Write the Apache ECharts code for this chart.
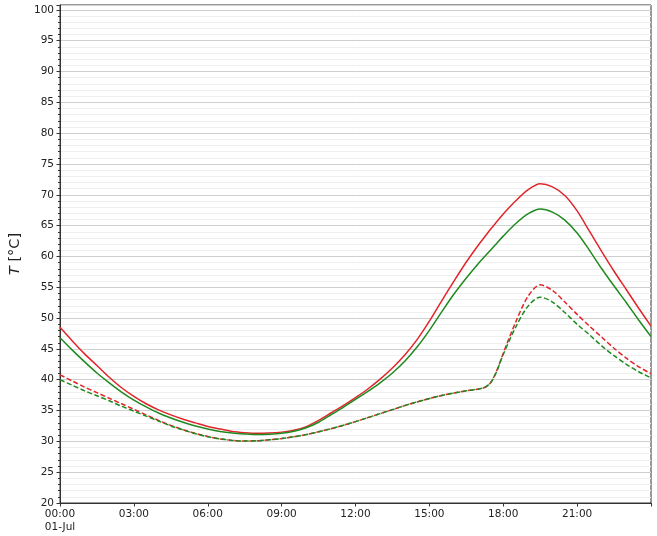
<!DOCTYPE html>
<html>
<head>
<meta charset="utf-8">
<script src="https://cdn.jsdelivr.net/npm/echarts@6/dist/echarts.min.js"></script>
<style>
  html, body { margin: 0; padding: 0; background: #fff; }
  #chart { width: 657px; height: 536px; }
</style>
</head>
<body>
<div id="chart"></div>
<script>
// Sample times over the day (HH:MM)
const times = [
  '00:00','00:30','01:00','01:30','02:00','02:30','03:00','03:30','04:00','04:30',
  '05:00','05:30','06:00','06:30','07:00','07:30','08:00','08:30','09:00','09:30',
  '10:00','10:30','11:00','11:30','12:00','12:30','13:00','13:30','14:00','14:30',
  '15:00','15:30','16:00','16:30','17:00','17:15','17:30','17:45','18:00','18:30',
  '19:00','19:30','20:00','20:30','21:00','21:30','22:00','22:30','23:00','23:30','24:00'
];

// Temperatures in °C
const redSolid = [
  48.5, 46.3, 44.2, 42.3, 40.4, 38.7, 37.3, 36.1, 35.1, 34.3,
  33.6, 33.0, 32.4, 32.0, 31.6, 31.4, 31.3, 31.35, 31.5, 31.8,
  32.4, 33.4, 34.6, 35.8, 37.1, 38.5, 40.1, 41.9, 44.0, 46.5,
  49.5, 52.8, 56.0, 59.1, 61.9, 63.2, 64.5, 65.7, 66.9, 69.0,
  70.8, 71.8, 71.3, 69.9, 67.4, 64.1, 60.8, 57.6, 54.6, 51.6, 48.7
];
const greenSolid = [
  46.8, 44.8, 42.9, 41.1, 39.5, 38.0, 36.7, 35.6, 34.6, 33.8,
  33.1, 32.5, 32.0, 31.6, 31.35, 31.2, 31.1, 31.15, 31.3, 31.65,
  32.2, 33.1, 34.3, 35.5, 36.8, 38.1, 39.5, 41.1, 43.0, 45.3,
  48.0, 51.0, 53.9, 56.5, 58.9, 60.0, 61.1, 62.2, 63.3, 65.3,
  66.9, 67.7, 67.2, 65.9, 63.8, 61.0, 58.0, 55.2, 52.5, 49.7, 47.0
];
const redDashed = [
  40.8, 39.8, 38.8, 37.9, 37.0, 36.1, 35.2, 34.3, 33.4, 32.6,
  31.9, 31.3, 30.8, 30.4, 30.15, 30.05, 30.1, 30.25, 30.45, 30.75,
  31.1, 31.55, 32.05, 32.6, 33.2, 33.85, 34.5, 35.15, 35.8, 36.4,
  36.95, 37.45, 37.85, 38.2, 38.5, 38.75, 39.6, 41.6, 44.3, 49.3,
  53.5, 55.4, 54.5, 52.6, 50.6, 48.7, 46.9, 45.1, 43.5, 42.1, 41.0
];
const greenDashed = [
  40.0, 39.1, 38.2, 37.4, 36.6, 35.7, 34.9, 34.1, 33.3, 32.5,
  31.85, 31.25, 30.75, 30.4, 30.15, 30.05, 30.1, 30.25, 30.45, 30.75,
  31.1, 31.55, 32.05, 32.6, 33.2, 33.85, 34.5, 35.15, 35.8, 36.4,
  36.95, 37.45, 37.85, 38.2, 38.5, 38.75, 39.6, 41.5, 44.1, 48.5,
  51.9, 53.4, 52.6, 50.9, 49.0, 47.3, 45.5, 43.9, 42.5, 41.3, 40.3
];

// Tick labels on the time axis, one every three hours
const xTickLabels = ['00:00\n01-Jul', '03:00', '06:00', '09:00', '12:00', '15:00', '18:00', '21:00', ''];

const toHours = s => { const [h, m] = s.split(':').map(Number); return h + m / 60; };
const pairs = vals => times.map((t, i) => [toHours(t), vals[i]]);

const RED = '#e0262b';
const GREEN = '#1f8a1f';

function line(name, vals, color, dashed) {
  return {
    name, type: 'line', data: pairs(vals), showSymbol: false,
    smooth: 0.3,
    lineStyle: { color, width: 1.5, type: dashed ? [5, 2.5] : 'solid' },
    itemStyle: { color }
  };
}

const chart = echarts.init(document.getElementById('chart'), null, { renderer: 'canvas' });
chart.setOption({
  animation: false,
  backgroundColor: '#fff',
  grid: {
    left: 60, right: 6, top: 5, bottom: 33,
    show: true, borderColor: '#333', borderWidth: 1, backgroundColor: 'transparent'
  },
  xAxis: {
    type: 'value', min: 0, max: 24, interval: 3,
    axisLine: { show: true, lineStyle: { color: '#333', width: 1 } },
    axisTick: { show: true, length: 3.5, lineStyle: { color: '#333' } },
    splitLine: { show: false },
    axisLabel: {
      color: '#222', fontFamily: 'DejaVu Sans', fontSize: 10.5, margin: 5, lineHeight: 13,
      formatter: v => xTickLabels[Math.round(v / 3)] || ''
    }
  },
  yAxis: {
    type: 'value', min: 20, max: 100.8, interval: 5,
    name: '{i|T} [°C]', nameLocation: 'middle', nameRotate: 90, nameGap: 29,
    nameTextStyle: {
      color: '#222', fontFamily: 'DejaVu Sans', fontSize: 14.5,
      rich: { i: { fontStyle: 'italic', fontFamily: 'DejaVu Sans', fontSize: 14.5, color: '#222' } }
    },
    axisLine: { show: true, lineStyle: { color: '#333', width: 1 } },
    axisTick: { show: true, length: 3.5, lineStyle: { color: '#333' } },
    minorTick: { show: true, splitNumber: 5, length: 2, lineStyle: { color: '#333' } },
    splitLine: { show: true, lineStyle: { color: '#cfcfcf', width: 1 } },
    minorSplitLine: { show: true, lineStyle: { color: '#efefef', width: 1 } },
    axisLabel: {
      color: '#222', fontFamily: 'DejaVu Sans', fontSize: 10.5, margin: 6,
      formatter: v => (Math.abs(v % 5) < 1e-9 ? String(v) : '')
    }
  },
  series: [
    line('red solid', redSolid, RED, false),
    line('green solid', greenSolid, GREEN, false),
    line('red dashed', redDashed, RED, true),
    line('green dashed', greenDashed, GREEN, true)
  ]
});
</script>
</body>
</html>
